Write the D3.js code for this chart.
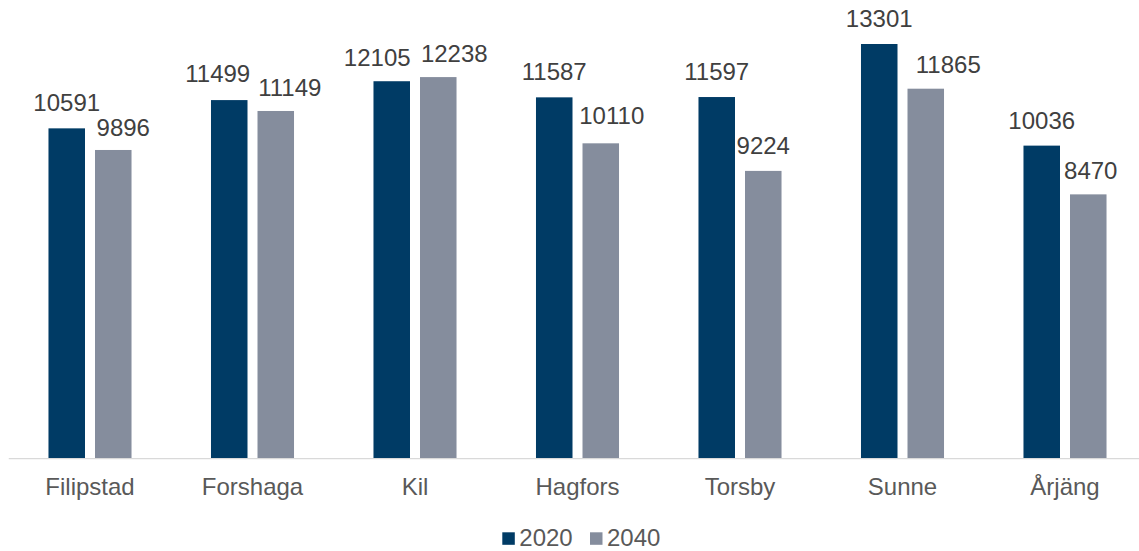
<!DOCTYPE html>
<html>
<head>
<meta charset="utf-8">
<script src="https://cdn.jsdelivr.net/npm/d3@7"></script>
<style>
  html, body { margin: 0; padding: 0; background: #fff; }
  svg { display: block; font-family: "Liberation Sans", Arial, sans-serif; }
</style>
</head>
<body>
<svg id="chart" width="1139" height="551"></svg>
<script>
const categories = ["Filipstad", "Forshaga", "Kil", "Hagfors", "Torsby", "Sunne", "Årjäng"];
const seriesNames = ["2020", "2040"];
const values2020 = [10591, 11499, 12105, 11587, 11597, 13301, 10036];
const values2040 = [9896, 11149, 12238, 10110, 9224, 11865, 8470];
const seriesColors = ["#003B65", "#858D9D"];
// manual label nudges (px) as placed in the original chart
const labelNudge2020 = [[0, 0], [-11.5, -1], [-14.5, 2], [0, 0], [0, 0], [0, 0], [0, 0]];
const labelNudge2040 = [[10, 3.5], [14, 2.5], [16, 1.5], [11, -2.5], [0, 0], [22.5, 1], [2.5, 2]];

const seriesValues = [values2020, values2040];
const nudges = [labelNudge2020, labelNudge2040];

const svg = d3.select("#chart");
const baseY = 458;
const fontSize = "24px";

const x0 = d3.scaleBand().domain(categories).range([8.75, 1146.25])
  .paddingInner(0.489).paddingOuter(0.2445);
const x1 = d3.scaleBand().domain(seriesNames).range([0, x0.bandwidth()])
  .paddingInner(0.215).paddingOuter(0);
const y = d3.scaleLinear().domain([0, 14000]).range([baseY, baseY - 14000 * (414 / 13301)]);

const rows = [];
categories.forEach((c, i) => {
  seriesNames.forEach((s, j) => {
    rows.push({ cat: c, series: s, si: j, value: seriesValues[j][i], nudge: nudges[j][i] });
  });
});

// bars
svg.append("g").selectAll("rect").data(rows).join("rect")
  .attr("x", d => x0(d.cat) + x1(d.series))
  .attr("y", d => y(d.value))
  .attr("width", x1.bandwidth())
  .attr("height", d => y(0) - y(d.value))
  .attr("fill", d => seriesColors[d.si]);

// axis line
svg.append("line")
  .attr("x1", 8.75).attr("x2", 1139)
  .attr("y1", baseY + 0.7).attr("y2", baseY + 0.7)
  .attr("stroke", "#D9D9D9").attr("stroke-width", 1.3);

// category labels via axis
const xAxis = d3.axisBottom(x0).tickSize(0).tickPadding(0);
const ax = svg.append("g").attr("transform", `translate(0, ${baseY})`).call(xAxis);
ax.select(".domain").remove();
ax.selectAll("text")
  .attr("dy", null)
  .attr("y", 37)
  .attr("font-size", fontSize)
  .attr("font-family", "'Liberation Sans', Arial, sans-serif")
  .attr("fill", "#595959");

// value labels
svg.append("g").selectAll("text").data(rows).join("text")
  .attr("x", d => x0(d.cat) + x1(d.series) + x1.bandwidth() / 2 + d.nudge[0])
  .attr("y", d => y(d.value) - 17 + d.nudge[1])
  .attr("text-anchor", "middle")
  .attr("font-size", fontSize)
  .attr("fill", "#404040")
  .text(d => d.value);

// legend
const legend = svg.append("g");
const legendX = [502.3, 590];
seriesNames.forEach((s, j) => {
  const g = legend.append("g").attr("transform", `translate(${legendX[j]}, 0)`);
  g.append("rect").attr("x", 0).attr("y", 532.3).attr("width", 12.5).attr("height", 12.5)
    .attr("fill", seriesColors[j]);
  g.append("text").attr("x", 17).attr("y", 546).attr("font-size", fontSize)
    .attr("fill", "#595959").text(s);
});
</script>
</body>
</html>
